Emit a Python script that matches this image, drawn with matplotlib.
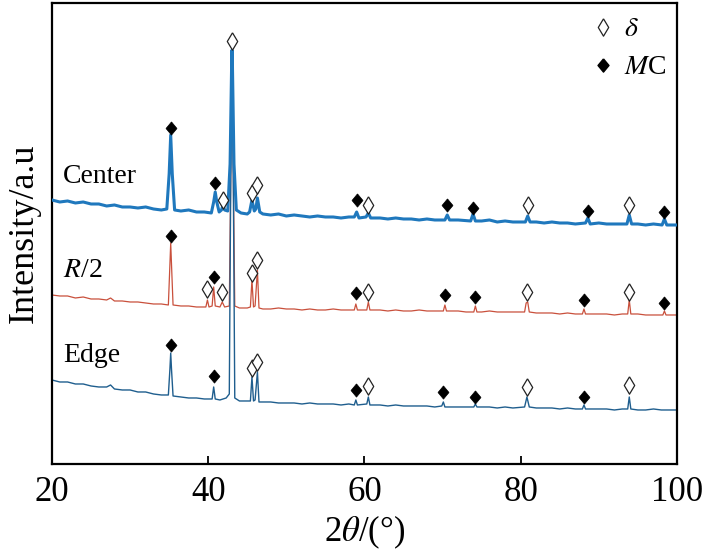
"""XRD patterns of Center / R/2 / Edge samples with delta and MC peak markers."""
import numpy as np
import matplotlib
matplotlib.use('Agg')
import matplotlib.pyplot as plt
from matplotlib.lines import Line2D

plt.rcParams.update({'font.family': ['Liberation Serif', 'DejaVu Serif'],
                     'mathtext.fontset': 'stix', 'axes.linewidth': 1.6})

BLUE, RED, DARK = '#1f78bd', '#c9503c', '#1f5e8e'

# 2theta (deg), intensity (a.u.) vertices
center_pts = [(20,264),(21,262),(22,263),(23,261),(24,262),(25,260),(26,260),(27,258),(28,259),(29,257),
              (30,257),(31,256),(32,257),(33,255),(34,254),(34.7,255),(35.0,290),(35.2,329),(35.4,290),(35.7,254),
              (36.5,253),(37.5,254),(38.5,252),(39.5,252),(40.4,251),(40.7,262),(40.9,272),(41.1,262),(41.4,252),
              (41.7,254),(41.9,259),(42.1,254),(42.5,253),(42.8,300),(43.0,400),(43.05,414),(43.1,400),(43.3,300),
              (43.6,254),(44.2,251),(45.0,250),(45.3,252),(45.6,264),(45.9,253),(46.1,255),(46.3,266),(46.6,252),
              (47.0,250),(48,249),(49,250),(50,248),(51,249),(52,248),(53,247),(54,248),(55,247),(56,247),(57,246),
              (58,247),(58.7,247),(59.0,252),(59.3,246),(60.2,247),(60.5,251),(60.8,246),(62,246),(63,245),(64,246),
              (65,245),(66,245),(67,244),(68,245),(69,244),(70.3,244),(70.6,249),(70.9,244),(72,244),(73.6,243),
              (73.9,250),(74.2,243),(75,243),(76,244),(77,242),(78,243),(79,242),(80.6,242),(80.9,248),(81.2,242),
              (82,242),(83,241),(84,242),(85,241),(86,241),(87,240),(88.3,241),(88.6,246),(88.9,240),(90,241),
              (91,240),(92,240),(93.6,240),(93.9,249),(94.2,240),(95,240),(96,239),(97,240),(98.1,239),(98.4,245),
              (98.7,239),(99.3,239),(100,239)]

r2_pts = [(20,169),(21,168),(22,168),(23,166),(24,167),(25,165),(26,165),(27,164),(27.5,166),(28,163),(29,163),
          (30,162),(31,162),(32,161),(33,160),(34,160),(34.9,159),(35.1,200),(35.2,221),(35.3,200),(35.5,159),
          (36.5,158),(37.5,158),(38.5,157),(39.3,157),(39.7,157),(39.9,164),(40.1,157),(40.5,158),(40.7,177),
          (40.9,158),(41.5,157),(41.8,162),(42.1,157),(42.7,158),(42.9,300),(43.0,380),(43.05,396),(43.1,380),
          (43.2,300),(43.4,158),(44,156),(45,156),(45.4,157),(45.6,184),(45.8,157),(46.0,158),(46.3,194),(46.5,156),
          (47,155),(48,155),(49,156),(50,155),(51,155),(52,154),(53,155),(54,154),(55,154),(56,155),(57,154),(58,154),
          (58.7,154),(58.9,160),(59.1,154),(60.3,154),(60.5,162),(60.7,154),(62,154),(63,153),(64,154),(65,153),
          (66,153),(67,154),(68,153),(69,153),(70.1,153),(70.3,159),(70.5,153),(72,153),(73,152),(74.0,152),
          (74.2,158),(74.4,152),(75,152),(76,153),(77,152),(78,152),(79,152),(80.5,152),(80.7,161),(80.9,162),
          (81.1,152),(82,151),(83,151),(84,151),(85,150),(86,151),(87,150),(87.9,150),(88.1,155),(88.3,150),
          (89,150),(90,150),(91,150),(92,149),(93,150),(93.7,150),(93.9,164),(94.1,150),(95,150),(96,149),(97,149),
          (98.2,149),(98.4,153),(98.6,149),(99,149),(100,149)]

edge_pts = [(20,84),(21,82),(22,82),(23,80),(24,80),(25,78),(26,77),(27,77),(27.5,79),(28,75),(29,74),(30,74),
            (31,72),(32,72),(33,70),(34,69),(34.9,69),(35.1,95),(35.2,111),(35.3,95),(35.5,68),(36.5,67),(37.5,66),
            (38.5,66),(39.5,65),(40.5,65),(40.7,77),(40.9,65),(41.5,64),(42.3,66),(42.7,70),(42.9,300),(43.0,375),
            (43.05,390),(43.1,375),(43.2,300),(43.4,66),(44,63),(45,63),(45.4,63),(45.6,87),(45.8,63),(46.0,64),
            (46.3,92),(46.5,62),(47,62),(48,62),(49,61),(50,61),(51,61),(52,60),(53,61),(54,60),(55,60),(56,60),
            (57,59),(58,60),(58.7,59),(58.9,64),(59.1,59),(60.3,60),(60.5,67),(60.7,59),(62,59),(63,58),(64,59),
            (65,58),(66,58),(67,58),(68,58),(69,57),(69.9,58),(70.1,62),(70.3,57),(72,57),(73,57),(74.0,57),
            (74.2,60),(74.4,57),(75,57),(76,57),(77,56),(78,57),(79,56),(80.5,57),(80.8,67),(81.1,57),(82,56),
            (83,56),(84,56),(85,55),(86,56),(87,55),(87.9,55),(88.1,59),(88.3,55),(89,55),(90,55),(91,55),(92,54),
            (93,55),(93.7,55),(93.9,67),(94.1,55),(95,54),(96,54),(97,55),(98,54),(99,54),(100,54)]

# peak markers: open = delta phase, filled = MC carbide
center_delta = [(41.9,264),(43.05,423),(45.6,271),(46.3,279),(60.5,259),(80.9,259),(93.9,259)]
center_mc = [(35.2,336),(40.9,281),(59.0,264),(70.6,259),(73.9,256),(88.6,253),(98.4,252)]
r2_delta = [(39.8,175),(41.8,172),(45.6,191),(46.3,204),(60.5,172),(80.8,172),(93.9,172)]
r2_mc = [(35.2,228),(40.7,187),(58.9,171),(70.3,169),(74.2,167),(88.1,164),(98.4,161)]
edge_delta = [(45.6,96),(46.3,102),(60.5,78),(80.8,77),(93.9,79)]
edge_mc = [(35.2,119),(40.7,88),(58.9,74),(70.1,72),(74.2,67),(88.1,67)]

labels = ['Center', '$R$/2', 'Edge']
label_pos = [(21.4,281), (21.4,187), (21.4,102)]
xticks = [20, 40, 60, 80, 100]

FILLED = [(0,1),(0.83,0),(0,-1),(-0.83,0),(0,1)]
OPEN = [(0,1),(0.6,0),(0,-1),(-0.6,0),(0,1)]

fig = plt.figure(figsize=(7.08,5.56), dpi=100)
ax = fig.add_axes([0.0734, 0.1655, 0.8827, 0.8291])

for pts, c, lw, z in [(r2_pts,RED,0.9,2),(edge_pts,DARK,1.0,2),(center_pts,BLUE,2.2,3)]:
    a = np.array(pts)
    ax.plot(a[:,0], a[:,1], color=c, lw=lw, zorder=z)

for pk in [center_delta, r2_delta, edge_delta]:
    a = np.array(pk)
    ax.plot(a[:,0], a[:,1], ls='none', marker=OPEN, ms=12.5, mfc='white', mec='#222222', mew=0.9, zorder=4)
for pk in [center_mc, r2_mc, edge_mc]:
    a = np.array(pk)
    ax.plot(a[:,0], a[:,1], ls='none', marker=FILLED, ms=9.5, mfc='black', mec='black', mew=0.5, zorder=4)

for t, (x, y) in zip(labels, label_pos):
    ax.text(x, y, t, fontsize=20, ha='left', va='baseline')

handles = [Line2D([], [], ls='none', marker=OPEN, ms=12.5, mfc='white', mec='#222222', mew=0.9),
           Line2D([], [], ls='none', marker=FILLED, ms=9.5, mfc='black', mec='black')]
ax.legend(handles, ['$\\delta$', '$M$C'], loc='upper right', frameon=False, fontsize=20,
          handlelength=0.8, handletextpad=0.35, labelspacing=0.45, borderaxespad=0.1,
          bbox_to_anchor=(1.006, 1.0))

ax.set_xlim(20, 100); ax.set_ylim(0, 461)
ax.set_xticks(xticks)
ax.tick_params(axis='x', direction='in', length=6, width=1.3, labelsize=25, pad=9)
ax.set_yticks([])
ax.set_xlabel('2$\\theta$/(°)', fontsize=25, labelpad=3)
ax.set_ylabel('Intensity/a.u', fontsize=26, labelpad=8)

fig.savefig('out.png', dpi=100)
